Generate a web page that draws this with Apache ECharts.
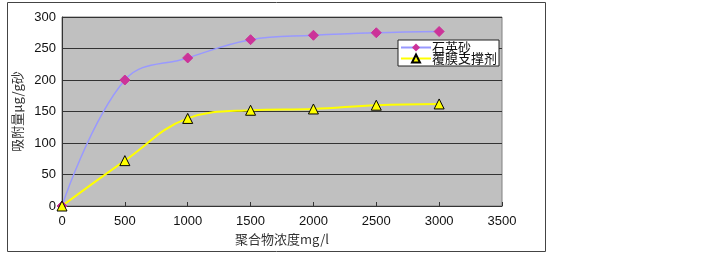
<!DOCTYPE html>
<html>
<head>
<meta charset="utf-8">
<script src="https://cdn.jsdelivr.net/npm/echarts@6/dist/echarts.min.js"></script>
<style>
  html, body { margin: 0; padding: 0; background: #fff; }
  #chart { width: 722px; height: 255px; }
</style>
</head>
<body>
<div id="chart"></div>
<script>
// 数据
var concentration = [0, 500, 1000, 1500, 2000, 2500, 3000];
var quartzSand = [0, 200, 235, 264, 271, 275, 277];
var coatedProppant = [0, 72, 139, 152, 154, 160, 162];
var seriesNames = ['石英砂', '覆膜支撑剂'];

function pairs(xs, ys) {
  return xs.map(function (x, i) { return [x, ys[i]]; });
}

var myChart = echarts.init(document.getElementById('chart'));
var option = {
  animation: false,
  grid: { left: 62, right: 220, top: 17, bottom: 49, backgroundColor: '#c0c0c0', show: true, borderColor: '#808080', borderWidth: 1 },
  graphic: [{
    type: 'rect',
    shape: { x: 7.5, y: 2.5, width: 538, height: 249 },
    style: { fill: null, stroke: '#444', lineWidth: 1 },
    z: -1
  }],
  legend: {
    orient: 'vertical',
    left: 398, top: 40,
    padding: [1, 2, 1, 2],
    itemGap: -2,
    itemWidth: 30, itemHeight: 10,
    backgroundColor: '#fff',
    borderColor: '#222', borderWidth: 1, borderRadius: 0,
    textStyle: { fontFamily: 'Noto Sans CJK SC', fontSize: 13, color: '#111', padding: [0, 0, 0, -4] },
    data: seriesNames
  },
  xAxis: {
    type: 'value', min: 0, max: 3500, interval: 500,
    name: '聚合物浓度mg/l',
    nameLocation: 'middle', nameGap: 27,
    nameTextStyle: { fontFamily: 'Noto Sans CJK SC', fontSize: 13, color: '#333' },
    axisLine: { show: true, lineStyle: { color: '#333' } },
    axisTick: { show: true, inside: true, length: 4, lineStyle: { color: '#333' } },
    axisLabel: { fontFamily: 'Liberation Sans', fontSize: 13, color: '#111', margin: 9,
      formatter: function (v) { return String(v); } },
    splitLine: { show: false }
  },
  yAxis: {
    type: 'value', min: 0, max: 300, interval: 50,
    name: '吸附量μg/g砂',
    nameLocation: 'middle', nameGap: 38,
    nameTextStyle: { fontFamily: 'Noto Sans CJK SC', fontSize: 13, color: '#333' },
    axisLine: { show: true, lineStyle: { color: '#333' } },
    axisTick: { show: false },
    axisLabel: { fontFamily: 'Liberation Sans', fontSize: 13, color: '#111', margin: 6 },
    splitLine: { show: true, lineStyle: { color: '#333', width: 1 } }
  },
  series: [
    {
      name: seriesNames[0],
      type: 'line',
      smooth: 0.4,
      data: pairs(concentration, quartzSand),
      symbol: 'diamond', symbolSize: 10,
      lineStyle: { color: '#9999ff', width: 1.5 },
      itemStyle: { color: '#cc3399', borderColor: '#cc3399' }
    },
    {
      name: seriesNames[1],
      type: 'line',
      smooth: 0.4,
      data: pairs(concentration, coatedProppant),
      symbol: 'triangle', symbolSize: 10,
      lineStyle: { color: '#ffff00', width: 2 },
      itemStyle: { color: '#ffff00', borderColor: '#000', borderWidth: 1 }
    }
  ]
};
myChart.setOption(option);
</script>
</body>
</html>
